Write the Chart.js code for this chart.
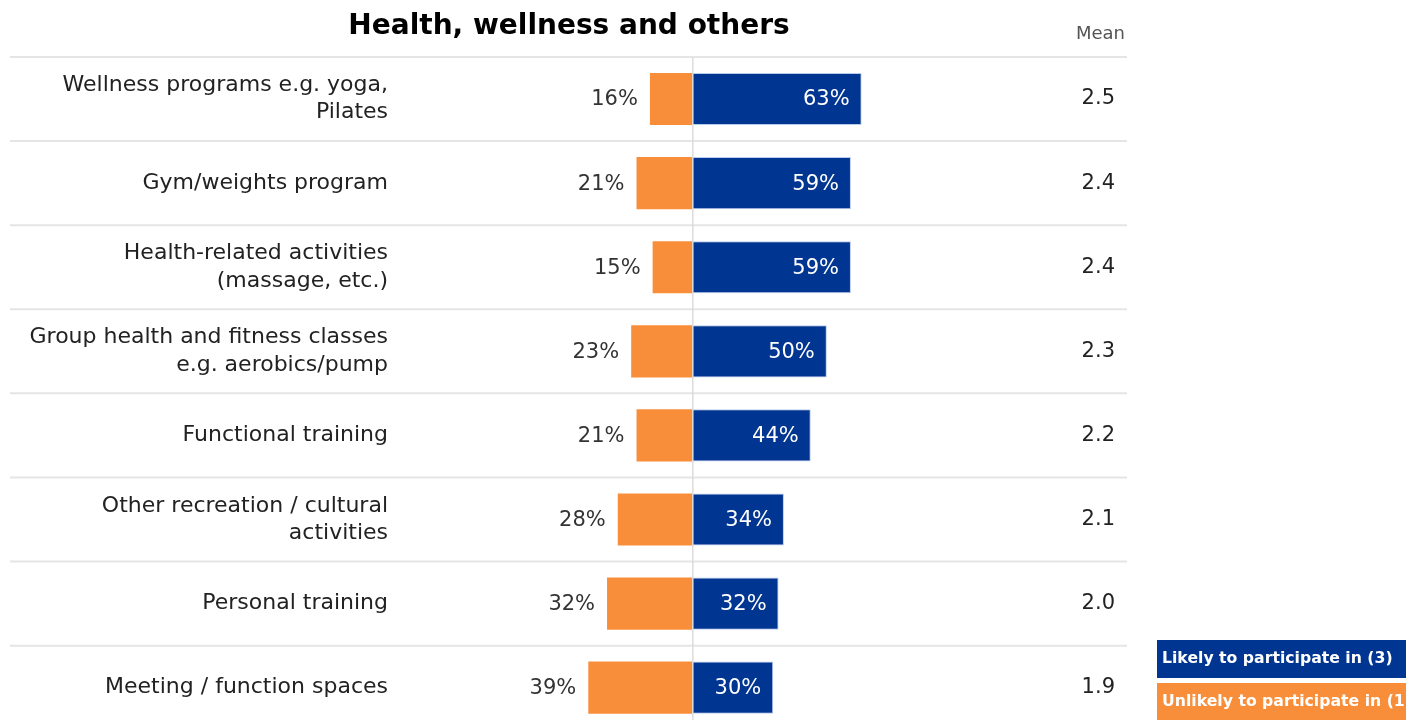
<!DOCTYPE html>
<html>
<head>
<meta charset="utf-8">
<script src="https://cdn.jsdelivr.net/npm/chart.js@4.4.1/dist/chart.umd.min.js"></script>
<style>
  html, body { margin: 0; padding: 0; background: #fff; overflow: hidden; }
  canvas { display: block; }
</style>
</head>
<body>
<canvas id="healthChart" width="1406" height="767"></canvas>
<script>
'use strict';

var categories = [
    ['Wellness programs e.g. yoga,', 'Pilates'],
    'Gym/weights program',
    ['Health-related activities', '(massage, etc.)'],
    ['Group health and fitness classes', 'e.g. aerobics/pump'],
    'Functional training',
    ['Other recreation / cultural', 'activities'],
    'Personal training',
    'Meeting / function spaces'
];
var likely   = [63, 59, 59, 50, 44, 34, 32, 30];
var unlikely = [16, 21, 15, 23, 21, 28, 32, 39];
var means    = ['2.5', '2.4', '2.4', '2.3', '2.2', '2.1', '2.0', '1.9'];

var blue = 'rgb(0, 53, 145)';
var orange = 'rgb(249, 142, 58)';
var fontFamily = "'DejaVu Sans', sans-serif";

var decorPlugin = {
    id: 'decor',
    beforeDatasetsDraw: function (chart) {
        var ctx = chart.ctx, area = chart.chartArea, ys = chart.scales.y;
        ctx.save();
        ctx.strokeStyle = '#e5e5e5';
        ctx.lineWidth = 2;
        for (var i = 0; i < categories.length; i++) {
            var yy = i === 0 ? area.top : (ys.getPixelForValue(i - 1) + ys.getPixelForValue(i)) / 2;
            ctx.beginPath();
            ctx.moveTo(10, yy);
            ctx.lineTo(area.right, yy);
            ctx.stroke();
        }
        ctx.restore();
    },
    afterDatasetsDraw: function (chart) {
        var ctx = chart.ctx, area = chart.chartArea;
        var xs = chart.scales.x, ys = chart.scales.y;
        ctx.save();
        // zero line
        ctx.strokeStyle = '#dcdcdc';
        ctx.lineWidth = 1.5;
        ctx.beginPath();
        ctx.moveTo(xs.getPixelForValue(0), area.top);
        ctx.lineTo(xs.getPixelForValue(0), area.bottom);
        ctx.stroke();

        ctx.font = '21px ' + fontFamily;
        ctx.textBaseline = 'middle';
        for (var i = 0; i < categories.length; i++) {
            var cy = ys.getPixelForValue(i);
            ctx.fillStyle = '#333';
            ctx.textAlign = 'right';
            ctx.fillText(unlikely[i] + '%', xs.getPixelForValue(-unlikely[i]) - 12, cy + 1);
            ctx.fillStyle = '#fff';
            ctx.fillText(likely[i] + '%', xs.getPixelForValue(likely[i]) - 12, cy + 1);
            ctx.fillStyle = '#222';
            ctx.fillText(means[i], 1115, cy);
        }

        // title and mean header
        ctx.fillStyle = '#000';
        ctx.textAlign = 'center';
        ctx.font = 'bold 28px ' + fontFamily;
        ctx.fillText('Health, wellness and others', 569, 27);
        ctx.fillStyle = '#555';
        ctx.textAlign = 'right';
        ctx.font = '18px ' + fontFamily;
        ctx.fillText('Mean', 1125, 34);

        // legend boxes
        var items = [chart.data.datasets[1], chart.data.datasets[0]];
        var tops = [640, 683];
        ctx.font = 'bold 15.7px ' + fontFamily;
        ctx.textAlign = 'left';
        items.forEach(function (ds, k) {
            ctx.fillStyle = ds.backgroundColor;
            ctx.fillRect(1157, tops[k], 260, 38);
            ctx.fillStyle = '#fff';
            ctx.fillText(ds.label, 1162, tops[k] + 19);
        });
        ctx.restore();
    }
};

var healthChart = new Chart(document.getElementById('healthChart'), {
    type: 'bar',
    data: {
        labels: categories,
        datasets: [
            {
                label: 'Unlikely to participate in (1)',
                data: unlikely.map(function (v) { return -v; }),
                backgroundColor: orange,
                borderWidth: 0
            },
            {
                label: 'Likely to participate in (3)',
                data: likely,
                backgroundColor: blue,
                borderColor: 'rgba(170, 190, 230, 0.8)',
                borderWidth: 1
            }
        ]
    },
    options: {
        indexAxis: 'y',
        responsive: false,
        animation: false,
        devicePixelRatio: 1,
        datasets: {
            bar: { categoryPercentage: 1, barPercentage: 0.62 }
        },
        layout: {
            padding: { top: 57, right: 279, bottom: 1, left: 0 }
        },
        scales: {
            x: {
                stacked: true,
                display: false,
                min: -110,
                max: 162
            },
            y: {
                stacked: true,
                grid: { display: false, drawTicks: false },
                border: { display: false },
                afterFit: function (scale) { scale.width = 398; },
                ticks: {
                    padding: 10,
                    color: '#222',
                    font: { family: fontFamily, size: 22, lineHeight: 1.24 }
                }
            }
        },
        plugins: {
            legend: { display: false },
            tooltip: { enabled: false },
            title: { display: false }
        }
    },
    plugins: [decorPlugin]
});
</script>
</body>
</html>
